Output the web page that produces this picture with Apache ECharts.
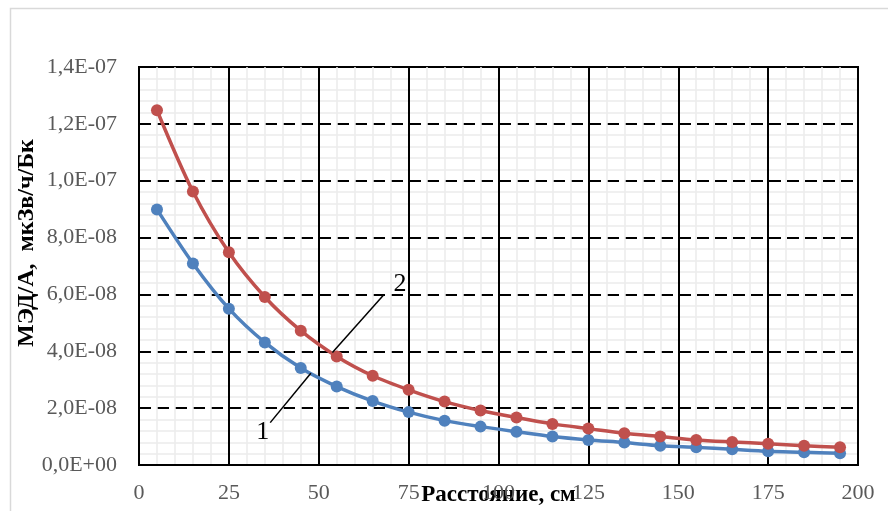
<!DOCTYPE html>
<html>
<head>
<meta charset="utf-8">
<script src="https://cdn.jsdelivr.net/npm/echarts@6/dist/echarts.min.js"></script>
<style>html,body{margin:0;padding:0;background:#fff;}#c{width:888px;height:511px;}</style>
</head>
<body>
<div id="c"></div>
<script>
const distances = [5,15,25,35,45,55,65,75,85,95,105,115,125,135,145,155,165,175,185,195];
const series1 = [8.99e-8,7.09e-8,5.50e-8,4.31e-8,3.41e-8,2.76e-8,2.25e-8,1.86e-8,1.56e-8,1.35e-8,1.17e-8,1.00e-8,0.88e-8,0.79e-8,0.68e-8,0.62e-8,0.55e-8,0.48e-8,0.45e-8,0.41e-8];
const series2 = [1.248e-7,0.962e-7,0.748e-7,0.591e-7,0.4725e-7,0.382e-7,0.314e-7,0.2645e-7,0.223e-7,0.1915e-7,0.1668e-7,0.1446e-7,0.128e-7,0.1117e-7,0.0999e-7,0.088e-7,0.081e-7,0.075e-7,0.068e-7,0.0623e-7];
const yTickLabels = ['0,0E+00','2,0E-08','4,0E-08','6,0E-08','8,0E-08','1,0E-07','1,2E-07','1,4E-07'];
const xTickLabels = ['0','25','50','75','100','125','150','175','200'];
const xTitle = 'Расстояние, см';
const yTitle = 'МЭД/А,  мкЗв/ч/Бк';
// annotation callouts (data coordinates)
const label1 = {text:'1', at:[34.4, 1.17e-8], line:[[36.5,1.49e-8],[47.8,3.23e-8]]};
const label2 = {text:'2', at:[72.6, 6.35e-8], line:[[53.8,3.96e-8],[68.1,5.99e-8]]};

const font = 'Liberation Serif';
const chart = echarts.init(document.getElementById('c'), null, {renderer:'canvas'});
const mk = (vals) => distances.map((d,i)=>[d, vals[i]]);
chart.setOption({
  animation:false,
  backgroundColor:'#fff',
  graphic:[{type:'rect', left:8, top:6, shape:{width:900,height:520}, style:{fill:'none', stroke:'#d9d9d9', lineWidth:1.5}, z:-1}],
  grid:{left:139, right:30, top:67, bottom:46, show:true, borderColor:'#000', borderWidth:2,
        containLabel:false, outerBoundsMode:'none'},
  xAxis:{
    type:'value', min:0, max:200, interval:25,
    axisLine:{show:true, lineStyle:{color:'#000', width:2}},
    axisTick:{show:false},
    axisLabel:{margin:17, fontFamily:font, fontSize:22, color:'#595959',
      formatter:(v)=>xTickLabels[Math.round(v/25)]},
    splitLine:{show:true, lineStyle:{color:'#000', width:2}},
    minorTick:{show:false, splitNumber:5},
    minorSplitLine:{show:true, lineStyle:{color:'#ececec', width:1.5}},
    name:xTitle, nameLocation:'middle', nameGap:19, nameMoveOverlap:false,
    nameTextStyle:{fontFamily:font, fontSize:23, fontWeight:'bold', color:'#000'}
  },
  yAxis:{
    type:'value', min:0, max:1.4e-7, interval:2e-8,
    axisLine:{show:true, lineStyle:{color:'#000', width:2}},
    axisTick:{show:false},
    axisLabel:{margin:22, fontFamily:font, fontSize:22, color:'#595959',
      formatter:(v)=>yTickLabels[Math.round(v/2e-8)]},
    splitLine:{show:true, lineStyle:{color:'#000', width:2, type:[12,6]}},
    minorTick:{show:false, splitNumber:5},
    minorSplitLine:{show:true, lineStyle:{color:'#ececec', width:1.5}},
    name:yTitle, nameLocation:'middle', nameGap:100, nameMoveOverlap:false,
    nameTextStyle:{fontFamily:font, fontSize:24, fontWeight:'bold', color:'#000', padding:[0,0,0,46]}
  },
  series:[
    {type:'line', name:'1', data:mk(series1), smooth:0.3, symbol:'circle', symbolSize:12,
     lineStyle:{color:'#4f81bd', width:3.5}, itemStyle:{color:'#4f81bd'}, z:3},
    {type:'line', name:'2', data:mk(series2), smooth:0.3, symbol:'circle', symbolSize:12,
     lineStyle:{color:'#c0504d', width:3.5}, itemStyle:{color:'#c0504d'}, z:4,
     markLine:{silent:true, symbol:'none', animation:false,
       lineStyle:{color:'#000', width:1.5, type:'solid'}, label:{show:false},
       data:[[{coord:label1.line[0]},{coord:label1.line[1]}],[{coord:label2.line[0]},{coord:label2.line[1]}]]},
     markPoint:{silent:true, symbol:'circle', symbolSize:0, animation:false,
       label:{show:true, position:'inside', fontFamily:font, fontSize:26, color:'#000', formatter:(p)=>p.name},
       data:[{name:label1.text, coord:label1.at},{name:label2.text, coord:label2.at}]}
    }
  ]
});
</script>
</body>
</html>
